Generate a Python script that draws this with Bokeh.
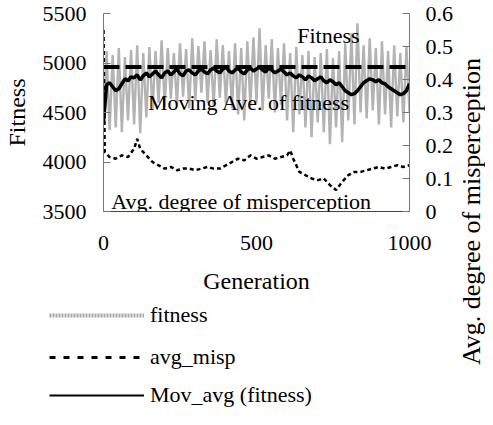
from bokeh.plotting import figure
from bokeh.models import Range1d, LinearAxis, FixedTicker, Label, Legend, LegendItem
from bokeh.layouts import row, column
from bokeh.core.properties import value
from bokeh.embed import file_html
from bokeh.resources import INLINE
import math

# ---------------- data ----------------
gen_step10 = list(range(0, 1001, 10))

fitness = [4400, 5120, 4320, 5080, 4350, 5150, 4300, 5060, 4420, 5130,
           4380, 5180, 4290, 5100, 4450, 5160, 4520, 5120, 4600, 5230,
           4560, 5150, 4640, 5100, 4580, 5200, 4660, 5140, 4540, 5250,
           4620, 5170, 4700, 5220, 4600, 5130, 4560, 5240, 4650, 5180,
           4590, 5120, 4540, 5200, 4480, 5150, 4420, 5220, 4560, 5260,
           4600, 5350, 4520, 5180, 4640, 5240, 4500, 5150, 4580, 5200,
           4420, 5100, 4300, 5160, 4480, 5080, 4350, 5120, 4250, 5060,
           4400, 5100, 4300, 5140, 4180, 5050, 4350, 5120, 4200, 5200,
           4420, 5300, 4380, 5400, 4500, 5180, 4440, 5250, 4520, 5150,
           4380, 5220, 4480, 5120, 4350, 5180, 4460, 5100, 4400, 5160,
           4500]

mov_avg = [4400, 4780, 4800, 4760, 4720, 4740, 4790, 4840, 4820, 4860,
           4850, 4880, 4830, 4870, 4900, 4860, 4890, 4920, 4880, 4850,
           4900, 4920, 4880, 4910, 4940, 4890, 4870, 4920, 4930, 4900,
           4880, 4920, 4940, 4910, 4890, 4930, 4950, 4920, 4900, 4940,
           4960, 4920, 4900, 4930, 4950, 4910, 4890, 4930, 4950, 4920,
           4940, 4960, 4930, 4910, 4950, 4930, 4900, 4920, 4940, 4910,
           4880, 4900, 4870, 4850, 4880, 4860, 4830, 4870, 4850, 4820,
           4840, 4860, 4820, 4800, 4830, 4810, 4780, 4800, 4760, 4720,
           4700, 4680, 4690, 4720, 4760, 4800, 4820, 4840, 4830, 4810,
           4830, 4800, 4790, 4760, 4740, 4720, 4700, 4680, 4690, 4720,
           4790]

misp_gen = [0, 4, 20, 40, 60, 80, 100, 110, 120, 140, 160, 180, 200, 220, 240,
            260, 280, 300, 320, 340, 360, 380, 400, 420, 440, 460, 480, 500,
            520, 540, 560, 580, 600, 610, 620, 640, 660, 680, 700, 720, 740,
            760, 780, 800, 820, 840, 860, 880, 900, 920, 940, 960, 980, 1000]
avg_misp = [0.55, 0.18, 0.165, 0.16, 0.17, 0.165, 0.19, 0.22, 0.19, 0.17,
            0.15, 0.14, 0.13, 0.135, 0.125, 0.13, 0.13, 0.125, 0.13, 0.135,
            0.13, 0.13, 0.14, 0.15, 0.16, 0.155, 0.17, 0.16, 0.165, 0.17,
            0.16, 0.165, 0.17, 0.185, 0.16, 0.12, 0.11, 0.10, 0.095, 0.10,
            0.08, 0.065, 0.09, 0.11, 0.12, 0.12, 0.125, 0.13, 0.135, 0.13,
            0.135, 0.14, 0.135, 0.14]

ref_gen = [0, 1000]
ref_level = [4960, 4960]

fit_ticks = [3500, 4000, 4500, 5000, 5500]
misp_ticks = [0, 0.1, 0.2, 0.3, 0.4, 0.5, 0.6]
misp_tick_labels = ["0", "0.1", "0.2", "0.3", "0.4", "0.5", "0.6"]
gen_ticks = [0, 500, 1000]

FONT = "Liberation Serif"
MAIN_W, MAIN_H = 457, 302
LEG_H = 409 - MAIN_H
SIDE_W = 485 - MAIN_W

# ---------------- main chart ----------------
p = figure(width=MAIN_W, height=MAIN_H, output_backend="svg", toolbar_location=None,
           x_range=Range1d(0, 1000), y_range=Range1d(3500, 5500),
           min_border_left=100, min_border_right=MAIN_W - 409, min_border_top=13,
           min_border_bottom=MAIN_H - 211, frame_align=False)
p.extra_y_ranges = {"misp": Range1d(0, 0.6)}
p.outline_line_color = None
p.grid.visible = False

p.line(gen_step10, fitness, line_color="#b3b3b3", line_width=2.4)
p.line(ref_gen, ref_level, line_color="black", line_width=4, line_dash="16 6")
p.line(gen_step10, mov_avg, line_color="black", line_width=3.5)
p.line(misp_gen, avg_misp, line_color="black", line_width=2.5, line_dash="4 3",
       y_range_name="misp")


def style_axis(ax):
    ax.major_label_text_font = FONT
    ax.major_label_text_font_size = "22px"
    ax.major_label_text_color = "black"
    ax.axis_label_text_font = FONT
    ax.axis_label_text_font_size = "24px"
    ax.axis_label_text_font_style = "normal"
    ax.axis_label_text_color = "black"
    ax.minor_tick_line_color = None
    ax.major_tick_out = 0
    ax.major_tick_in = 7
    ax.major_tick_line_color = "#777777"
    ax.axis_line_color = "#777777"


ya = p.yaxis[0]
ya.ticker = FixedTicker(ticks=fit_ticks)
ya.axis_label = "Fitness"
style_axis(ya)
ya.major_label_standoff = 17
ya.axis_label_standoff = 10

ra = LinearAxis(y_range_name="misp", ticker=FixedTicker(ticks=misp_ticks))
ra.major_label_overrides = {t: s for t, s in zip(misp_ticks, misp_tick_labels)}
style_axis(ra)
ra.major_label_standoff = 16
p.add_layout(ra, "right")

xa = p.xaxis[0]
xa.ticker = FixedTicker(ticks=gen_ticks)
xa.axis_label = "Generation"
style_axis(xa)
xa.major_tick_in = 0
xa.axis_line_color = "#444444"
xa.major_label_standoff = 24
xa.axis_label_standoff = 15

for txt, gx, fy in [("Fitness", 735, 5277),
                    ("Moving Ave. of fitness", 476, 4596),
                    ("Avg. degree of misperception", 450, 3601)]:
    p.add_layout(Label(x=gx, y=fy, text=txt, text_font=FONT, text_font_size="22px",
                       text_align="center", text_baseline="middle", text_color="black"))

# ---------------- legend strip below the chart ----------------
lf = figure(width=MAIN_W, height=LEG_H, output_backend="svg", toolbar_location=None,
            x_range=Range1d(0, MAIN_W), y_range=Range1d(0, LEG_H),
            x_axis_type=None, y_axis_type=None,
            min_border=0, min_border_left=0, min_border_right=0,
            min_border_top=0, min_border_bottom=0, frame_align=False)
lf.outline_line_color = None
lf.grid.visible = False

# legend-only renderers (their points lie outside the visible range)
hidden_x = [-20, -10]
hidden_y = [-20, -20]
leg_fit = lf.line(hidden_x, hidden_y, line_color="#a6a6a6", line_width=4, line_dash="2 1")
leg_misp = lf.line(hidden_x, hidden_y, line_color="black", line_width=3, line_dash="6 8")
leg_mov = lf.line(hidden_x, hidden_y, line_color="black", line_width=2)

for label, rend, yc in [("fitness", leg_fit, 14),
                        ("avg_misp", leg_misp, 56),
                        ("Mov_avg (fitness)", leg_mov, 94)]:
    lg = Legend(items=[LegendItem(label=label, renderers=[rend])],
                location=(49, LEG_H - yc - 12), orientation="vertical",
                glyph_width=95, glyph_height=20, label_height=20,
                label_standoff=6, padding=0, spacing=0, margin=0,
                border_line_alpha=0, background_fill_alpha=0,
                label_text_font=FONT, label_text_font_size="22px",
                label_text_color="black")
    lf.add_layout(lg)

# ---------------- right-hand axis title ----------------
sf = figure(width=SIDE_W, height=409, output_backend="svg", toolbar_location=None,
            x_range=Range1d(0, SIDE_W), y_range=Range1d(409, 0),
            x_axis_type=None, y_axis_type=None,
            min_border=0, min_border_left=0, min_border_right=0,
            min_border_top=0, min_border_bottom=0, frame_align=False)
sf.outline_line_color = None
sf.grid.visible = False
sf.text(x=[14], y=[211], text=["Avg. degree of misperception"], angle=math.pi / 2,
        text_font=value(FONT), text_font_size="26px", text_align="center",
        text_baseline="middle", text_color="black")

layout = row(column(p, lf, spacing=0), sf, spacing=0)

open("out.html", "w").write(file_html(layout, INLINE))
